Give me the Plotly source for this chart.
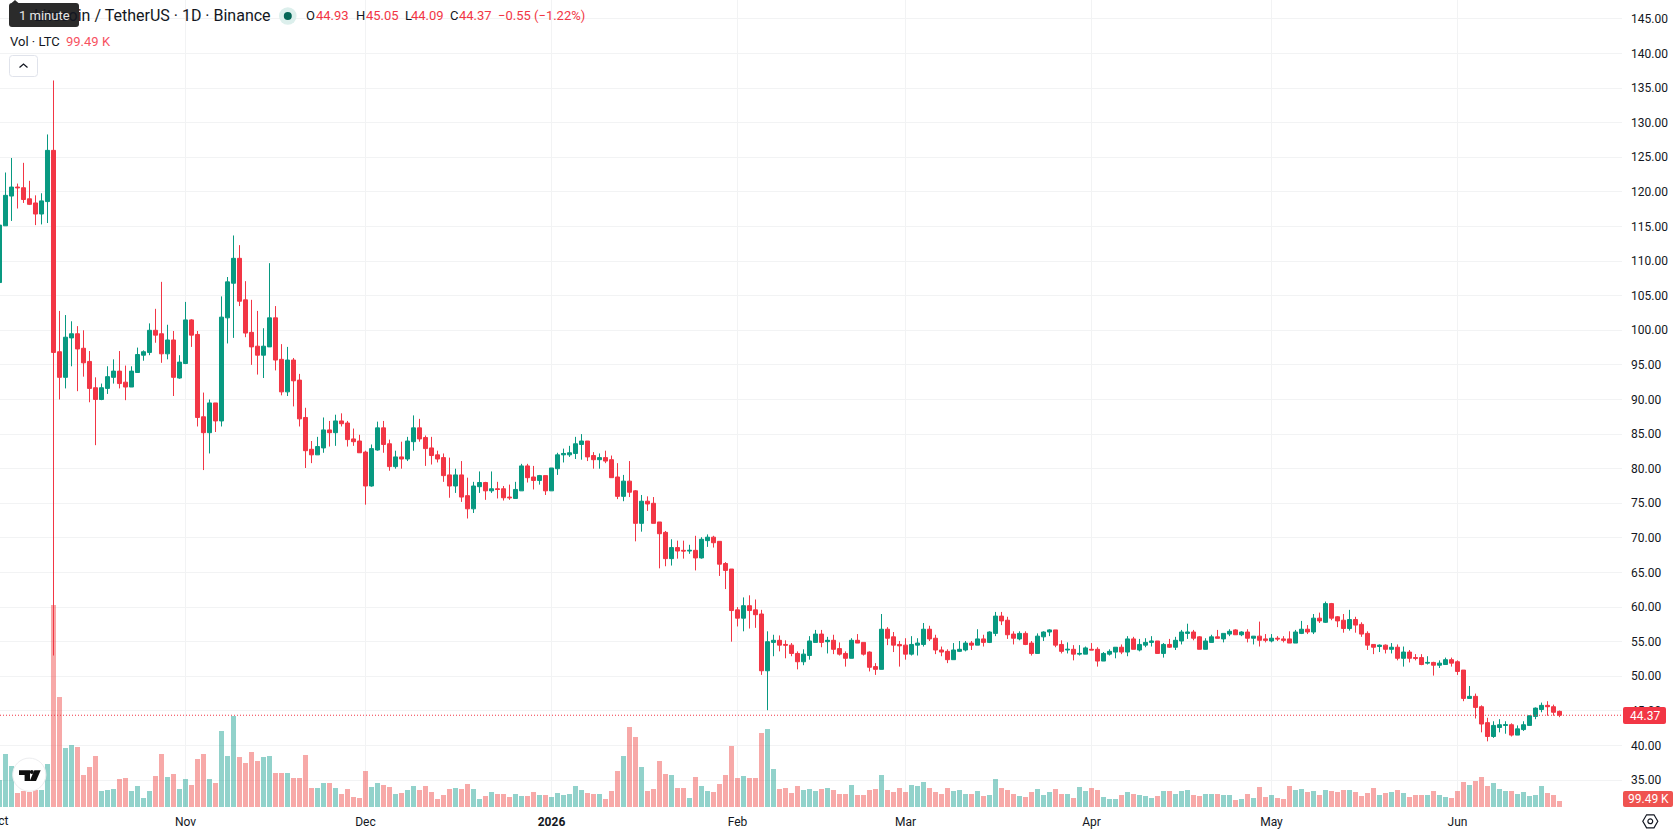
import pandas as pd
import plotly.graph_objects as go

# LTC/USDT daily candles, 1 Oct 2025 to 18 Jun 2026
first_day = "2025-10-01"

opens = [
    106.9,115.1,119.4,120.7,120.6,119.0,118.4,116.8,118.6,126.0,
    96.9,93.2,98.9,99.5,97.4,95.5,91.7,90.0,91.6,93.2,
    94.1,92.5,91.8,93.9,96.4,96.8,100.0,99.5,96.6,98.6,
    93.1,95.2,101.5,99.4,87.5,85.2,89.5,86.9,101.8,106.8,
    110.4,104.4,99.7,97.7,96.4,97.6,101.8,95.8,91.1,95.7,
    92.8,87.4,82.8,82.0,83.0,85.6,85.2,86.9,86.6,84.3,
    84.0,82.4,77.5,82.7,85.9,83.6,80.3,81.7,81.4,83.9,
    85.9,84.5,83.0,82.0,81.6,79.1,77.5,79.1,76.1,74.2,
    77.4,78.0,76.8,77.1,77.1,75.9,75.7,76.8,80.4,78.8,
    78.3,79.0,76.8,80.0,82.0,82.0,82.2,83.5,84.0,81.9,
    81.3,81.6,81.3,78.8,76.0,78.2,76.8,72.1,75.3,75.0,
    72.3,70.8,67.0,68.6,68.2,68.1,68.2,67.1,69.6,70.1,
    69.5,66.3,65.5,59.6,58.4,60.2,59.6,59.0,50.8,54.9,
    55.2,54.6,54.5,53.3,52.1,53.0,54.9,56.1,55.0,55.2,
    54.0,53.3,52.6,55.2,54.9,53.5,51.4,51.0,56.8,55.7,
    54.6,54.5,53.2,54.5,54.6,56.8,55.5,53.8,53.6,52.4,
    53.6,53.8,54.8,54.5,55.4,54.9,56.2,58.7,58.1,56.1,
    55.4,56.2,54.8,53.3,55.7,56.4,56.7,54.6,53.8,53.9,
    53.2,53.2,53.9,53.9,52.2,53.2,53.5,54.2,53.5,55.4,
    53.8,54.5,54.9,55.1,53.3,54.6,54.2,55.1,56.2,56.4,
    55.7,53.9,54.9,55.7,55.4,56.1,56.7,56.0,56.4,55.5,
    55.8,55.4,55.1,55.5,55.4,55.4,54.8,56.2,56.8,56.4,
    58.4,57.8,60.5,58.6,58.1,56.9,58.2,57.5,56.2,54.6,
    54.3,54.5,53.9,54.2,52.6,53.5,52.7,52.7,51.9,52.0,
    51.6,51.7,52.4,52.1,50.9,46.8,47.1,45.6,43.3,41.3,
    42.6,42.9,43.0,41.5,42.3,42.9,44.2,45.2,45.8,45.6,44.93,
]
highs = [
    115.5,122.8,124.9,121.2,124.2,121.6,119.5,119.8,128.3,136.1,
    102.8,102.2,101.3,100.6,100.0,97.0,93.2,92.3,94.8,95.8,
    97.0,94.9,94.8,97.5,97.1,101.0,103.1,107.0,100.8,99.9,
    96.4,104.1,101.6,99.9,91.0,90.0,89.5,104.9,107.7,113.7,
    112.3,107.1,104.4,102.8,100.3,109.7,103.5,98.0,97.6,96.0,
    93.7,88.8,84.0,84.6,87.4,86.9,87.8,88.0,86.9,85.8,
    84.9,82.6,83.5,86.8,86.9,84.2,82.6,83.9,84.6,87.7,
    87.2,84.8,84.6,82.6,82.2,81.6,80.0,81.1,78.7,78.1,
    79.6,78.1,79.6,78.1,77.5,77.7,78.1,80.7,80.7,80.4,
    79.1,79.0,80.1,82.3,82.9,83.3,84.6,85.0,84.0,82.4,
    82.2,82.6,81.9,80.8,79.1,81.1,76.9,76.2,76.0,75.9,
    72.3,71.0,69.8,69.6,69.6,69.0,70.3,70.1,70.5,70.3,
    69.5,66.5,65.5,60.0,61.4,61.7,61.1,59.6,56.5,56.0,
    55.9,55.2,54.8,53.6,53.9,55.8,56.7,56.7,55.7,56.0,
    54.9,53.6,55.5,56.1,54.9,53.6,51.9,59.0,57.1,56.4,
    55.1,55.5,55.8,55.5,57.7,57.3,56.0,54.3,53.9,54.8,
    55.1,55.1,55.1,56.8,56.0,56.5,59.3,59.3,58.6,56.5,
    56.5,56.5,55.1,56.2,56.5,56.8,56.7,55.2,54.9,54.5,
    54.5,54.3,54.8,54.2,53.5,53.9,54.2,54.6,55.8,55.7,
    55.4,55.5,55.8,55.1,54.8,55.4,55.7,56.7,57.6,56.7,
    55.8,55.5,56.0,56.7,56.2,56.8,56.8,56.5,56.8,55.8,
    57.9,56.1,56.1,55.8,55.8,56.5,56.7,58.0,57.4,59.0,
    59.2,60.8,60.6,58.7,59.0,59.6,58.6,57.8,56.5,54.6,
    54.6,54.6,54.8,54.6,54.3,53.8,53.2,53.2,52.9,52.1,
    52.3,52.7,52.7,52.3,50.9,48.6,47.5,45.8,44.0,43.5,
    43.8,43.5,43.2,42.9,43.5,44.3,45.5,46.2,46.4,45.9,45.05,
]
lows = [
    106.5,115.1,115.8,117.6,118.4,118.1,115.2,115.3,115.5,53.0,
    90.0,91.6,94.8,91.2,93.3,89.6,83.4,89.9,90.8,92.3,
    91.6,89.9,91.8,93.9,95.6,96.4,98.2,95.3,95.8,90.5,
    93.0,95.1,97.6,86.1,79.8,82.2,85.3,86.1,98.1,98.9,
    103.5,99.0,95.0,93.6,93.1,97.6,94.2,90.6,90.5,89.0,
    86.1,80.1,80.8,82.0,82.3,83.2,83.3,86.1,83.2,83.3,
    82.3,74.8,77.4,82.6,82.3,79.7,80.0,80.0,81.1,82.6,
    83.9,80.4,80.6,80.9,78.1,75.8,76.5,75.2,72.8,73.6,
    76.5,75.5,76.5,75.7,75.4,75.5,75.7,76.8,78.0,77.0,
    77.7,76.2,76.8,79.1,80.9,81.7,81.4,81.3,81.1,80.0,
    80.0,80.8,78.7,75.6,75.3,75.9,69.5,70.9,73.9,72.1,
    65.6,65.9,66.0,67.0,67.0,67.7,65.3,67.0,68.7,68.6,
    64.5,62.6,55.0,57.2,56.5,56.9,57.0,50.2,45.1,52.9,
    53.6,52.6,52.9,51.0,51.6,52.4,54.9,54.2,53.3,53.2,
    53.0,51.4,52.6,54.8,53.0,50.7,50.2,51.0,54.5,53.5,
    51.4,52.4,53.0,53.0,54.3,55.1,53.2,52.9,51.9,52.4,
    53.5,53.6,53.8,54.5,54.3,54.8,55.8,57.4,55.4,54.6,
    55.2,54.5,53.0,53.3,55.1,55.8,54.2,53.3,53.3,52.3,
    53.0,53.2,53.8,51.4,52.2,53.0,52.6,53.2,52.9,53.9,
    53.6,54.2,54.3,53.3,52.7,54.1,53.8,54.6,55.4,55.2,
    53.9,53.9,54.9,55.5,54.9,55.8,56.0,55.8,54.9,54.6,
    54.3,54.9,54.9,55.1,54.9,54.8,54.8,56.1,56.1,56.1,
    57.7,57.7,58.1,57.1,56.3,56.6,56.3,55.7,53.8,53.2,
    53.5,53.3,53.3,52.3,51.4,52.0,52.3,51.6,51.7,50.1,
    51.2,51.7,51.4,50.2,46.4,46.8,43.9,41.9,40.6,41.1,
    41.9,41.7,41.3,41.5,42.1,42.9,43.8,44.8,44.3,44.3,44.09,
]
closes = [
    115.2,119.5,120.7,120.6,118.9,118.2,116.8,118.7,126.0,96.8,
    93.2,99.0,99.5,97.3,95.3,91.6,90.0,91.7,93.3,94.1,
    92.3,91.8,94.1,96.5,96.9,100.0,99.3,96.6,98.6,93.2,
    95.4,101.5,99.3,87.4,85.2,89.5,86.9,101.9,107.0,110.4,
    104.2,99.6,97.6,96.4,97.7,101.8,95.7,91.1,95.7,92.7,
    87.2,82.6,82.0,83.2,85.6,85.2,86.9,86.5,84.2,83.9,
    82.3,77.5,82.9,85.9,83.5,80.3,81.7,81.4,84.0,85.9,
    84.3,82.9,81.9,81.4,79.0,77.5,79.1,75.9,74.2,77.5,
    78.0,76.8,77.1,77.0,75.8,75.8,77.0,80.4,78.7,78.3,
    79.0,76.8,80.1,82.0,82.2,82.3,83.6,84.0,81.7,81.3,
    81.6,81.1,78.7,76.0,78.2,76.6,72.1,75.3,74.9,72.1,
    70.6,67.0,68.6,68.1,68.1,68.2,67.1,69.8,70.1,69.3,
    66.2,65.3,59.5,58.4,60.2,59.5,58.9,50.8,55.0,55.2,
    54.5,54.5,53.3,52.1,53.2,55.1,56.1,54.9,55.2,53.9,
    53.2,52.6,55.2,54.8,53.2,51.3,51.0,56.8,55.5,54.5,
    54.4,53.2,54.6,54.8,56.8,55.4,53.8,53.5,52.4,53.8,
    53.9,54.8,54.5,55.4,54.9,56.4,58.7,58.0,56.0,55.5,
    56.2,54.6,53.3,55.8,56.4,56.7,54.5,53.6,53.9,53.2,
    53.3,54.1,53.8,52.2,53.3,53.6,54.2,53.5,55.4,53.9,
    54.6,54.9,55.1,53.3,54.6,54.2,55.2,56.4,56.4,55.5,
    53.9,55.1,55.7,55.5,56.2,56.5,56.0,56.4,55.5,55.8,
    55.2,55.2,55.5,55.4,55.2,54.8,56.4,56.8,56.4,58.4,
    58.0,60.5,58.4,58.0,56.9,58.2,57.4,56.1,54.5,54.2,
    54.5,53.9,54.2,52.6,53.5,52.6,52.6,51.7,52.0,51.6,
    51.9,52.4,51.9,50.7,46.8,47.1,45.5,43.1,41.3,42.9,
    43.0,43.0,41.5,42.4,43.0,44.3,45.4,45.8,45.6,44.8,44.37,
]
# Daily traded volume, thousands of LTC
volumes_k = [
    448,879,680,232,265,249,282,282,713,3349,
    1824,978,1028,995,531,663,846,265,282,298,
    464,481,265,348,149,265,514,879,497,547,
    298,464,365,796,879,464,398,1260,846,1509,
    829,730,912,763,829,846,564,564,564,481,
    481,862,315,315,398,398,315,216,298,166,
    149,597,332,398,365,332,216,232,282,348,
    282,348,249,133,199,298,315,298,381,298,
    133,182,249,216,216,166,216,182,182,249,
    199,199,166,232,199,216,348,282,232,216,
    216,133,265,597,846,1326,1161,663,265,298,
    763,547,531,315,315,149,497,348,265,249,
    381,531,1011,481,514,481,481,1227,1293,630,
    298,315,232,348,282,298,265,298,315,282,
    216,216,365,199,199,282,298,531,282,249,
    315,249,365,348,415,315,249,216,315,265,
    282,216,216,265,182,199,464,315,282,216,
    182,166,249,298,199,249,298,216,216,149,
    332,265,315,282,166,133,133,199,249,216,
    199,182,149,182,265,265,216,265,282,199,
    182,216,216,216,199,199,116,133,216,149,
    332,166,199,149,133,348,282,298,249,265,
    199,282,265,249,282,282,249,182,232,315,
    199,232,249,282,232,166,199,199,199,265,
    199,166,149,265,415,365,431,497,348,398,
    298,265,265,216,249,182,199,348,232,199,99.49,
]
month_ticks = ["2025-11-01", "2025-12-01", "2026-01-01", "2026-02-01",
               "2026-03-01", "2026-04-01", "2026-05-01", "2026-06-01"]
month_labels = ["Nov", "Dec", "<b>2026</b>", "Feb", "Mar", "Apr", "May", "Jun"]

UP = "#089981"
DOWN = "#F23645"
VOL_UP = "#029686"
VOL_DOWN = "#EC3735"
TEXT = "#131722"
GRID = "#F2F3F4"
FONT = "Roboto"

WIDTH, HEIGHT = 1678, 835
PLOT_W, PLOT_H = 1622, 807

dates = pd.date_range(first_day, periods=len(closes), freq="D")
volume_colors = [VOL_UP if c >= o else VOL_DOWN for o, c in zip(opens, closes)]


def px(x):
    return x / PLOT_W


def py(y):
    return 1 - y / PLOT_H


def label(x, y, text, color=TEXT, size=13, anchor="left"):
    return dict(xref="paper", yref="paper", x=px(x), y=py(y), text=text, showarrow=False,
                xanchor=anchor, yanchor="middle", align=anchor, borderpad=0, borderwidth=0,
                font=dict(family=FONT, size=size, color=color))


def box(x0, y0, x1, y1, r=2):
    # rounded rectangle path in paper fractions
    p = lambda x, y: f"{px(x)} {py(y)}"
    return (f"M{p(x0 + r, y0)} L{p(x1 - r, y0)} Q{p(x1, y0)} {p(x1, y0 + r)} "
            f"L{p(x1, y1 - r)} Q{p(x1, y1)} {p(x1 - r, y1)} L{p(x0 + r, y1)} "
            f"Q{p(x0, y1)} {p(x0, y1 - r)} L{p(x0, y0 + r)} Q{p(x0, y0)} {p(x0 + r, y0)} Z")


def poly(points, close=True):
    d = "M" + " L".join(f"{px(x)} {py(y)}" for x, y in points)
    return d + (" Z" if close else "")


def path_shape(path, fill=None, line=None, width=1):
    return dict(type="path", xref="paper", yref="paper", layer="above", path=path,
                fillcolor=fill or "rgba(0,0,0,0)",
                line=dict(color=line or "rgba(0,0,0,0)", width=width if line else 0))


def circle(cx, cy, r, fill=None, line=None, width=1):
    return dict(type="circle", xref="paper", yref="paper", layer="above",
                x0=px(cx - r), x1=px(cx + r), y0=py(cy + r), y1=py(cy - r),
                fillcolor=fill or "rgba(0,0,0,0)",
                line=dict(color=line or "rgba(0,0,0,0)", width=width if line else 0))


fig = go.Figure()
fig.add_trace(go.Bar(
    x=dates, y=volumes_k, yaxis="y", width=72000000,
    marker=dict(color=volume_colors, opacity=0.43, line=dict(width=0)),
    showlegend=False, name="Volume",
))
fig.add_trace(go.Candlestick(
    x=dates, open=opens, high=highs, low=lows, close=closes, yaxis="y2",
    whiskerwidth=0,
    increasing=dict(line=dict(color=UP, width=1), fillcolor=UP),
    decreasing=dict(line=dict(color=DOWN, width=1), fillcolor=DOWN),
    showlegend=False, name="LTCUSDT",
))

shapes = [
    # last-price marker
    dict(type="line", xref="paper", yref="y2", x0=0, x1=1, y0=closes[-1], y1=closes[-1],
         layer="above", line=dict(color=DOWN, width=1, dash="1px,2px")),
    # status dot
    circle(287.8, 16, 8.8, fill="#DCEFEC"),
    circle(287.8, 16, 4, fill="#056656"),
    # collapse button
    path_shape(box(9.5, 55.5, 37.5, 76.5, 3), fill="#FFFFFF", line="#E0E3EB"),
    path_shape(poly([(19.5, 67.5), (23.5, 64), (27.5, 67.5)], close=False), line=TEXT, width=1.3),
    # tooltip
    path_shape(box(9, 3, 79, 27, 3), fill="#2B2B2B"),
    path_shape(poly([(11, 3.5), (15, 0), (19, 3.5)]), fill="#2B2B2B"),
    # price and volume scale flags
    path_shape(box(1623, 707, 1666, 724), fill=DOWN),
    path_shape(box(1623, 791, 1673, 807), fill="#EF5350"),
    # logo badge
    circle(29.3, 774.7, 16.6, fill="#FFFFFF", line="#ECEDEF", width=1),
    path_shape(poly([(19, 770.3), (30, 770.3), (30, 781), (24.6, 781), (24.6, 775), (19, 775)]), fill="#0F0F0F"),
    circle(31.8, 771.9, 2.0, fill="#0F0F0F"),
    path_shape(poly([(34.3, 770.3), (40.7, 770.3), (36, 781), (29.7, 781)]), fill="#0F0F0F"),
    # settings icon
    path_shape(poly([(1642.8, 821.3), (1646.6, 814.8), (1654, 814.8), (1657.8, 821.3), (1654, 827.8), (1646.6, 827.8)]),
               line=TEXT, width=1.2),
    circle(1650.3, 821.3, 2.4, line=TEXT, width=1.2),
]

annotations = [
    label(271, 16, "Litecoin / TetherUS · 1D · Binance", size=16, anchor="right"),
    label(44, 15.5, "1 minute", color="#E6E6E6", size=13, anchor="center"),
    label(9.5, 41, "Vol · LTC", size=13),
    label(66, 41, "99.49 K", color="#F7525F", size=13),
    label(305.8, 16, "O", size=13),
    label(316, 16, "44.93", color=DOWN, size=13),
    label(355.5, 16, "H", size=13),
    label(365.5, 16, "45.05", color=DOWN, size=13),
    label(404.5, 16, "L", size=13),
    label(411.4, 16, "44.09", color=DOWN, size=13),
    label(450.4, 16, "C", size=13),
    label(459.2, 16, "44.37", color=DOWN, size=13),
    label(498.3, 16, "−0.55 (−1.22%)", color=DOWN, size=13),
    label(1644.5, 715.5, "44.37", color="#FFFFFF", size=12, anchor="center"),
    label(1648, 799, "99.49 K", color="#FFFFFF", size=12, anchor="center"),
    label(-0.5, 821, "Oct", size=12, anchor="center"),
]

fig.update_layout(
    width=WIDTH, height=HEIGHT,
    margin=dict(l=0, r=WIDTH - PLOT_W, t=0, b=HEIGHT - PLOT_H, pad=0),
    template="none", paper_bgcolor="#FFFFFF", plot_bgcolor="#FFFFFF",
    font=dict(family=FONT, size=12, color=TEXT),
    showlegend=False, dragmode=False, bargap=0,
    boxgap=0.33, boxgroupgap=0,
    shapes=shapes, annotations=annotations,
    xaxis=dict(
        type="date", range=["2025-10-01 02:00", "2026-06-28 10:00"],
        rangeslider=dict(visible=False),
        tickmode="array", tickvals=month_ticks, ticktext=month_labels,
        showgrid=True, gridcolor=GRID, gridwidth=1, ticks="", ticklabelstandoff=6,
        showline=False, zeroline=False, tickfont=dict(family=FONT, size=12, color=TEXT),
    ),
    yaxis=dict(range=[0, 13382], visible=False, showgrid=False, zeroline=False, fixedrange=True),
    yaxis2=dict(
        overlaying="y", side="right", anchor="x",
        range=[31.11, 147.73], tick0=0, dtick=5, tickformat=".2f",
        showgrid=True, gridcolor=GRID, gridwidth=1, ticks="", ticklabelstandoff=8,
        showline=False, zeroline=False, tickfont=dict(family=FONT, size=12, color=TEXT),
    ),
)

fig.write_html("out.html", config={"displayModeBar": False})
